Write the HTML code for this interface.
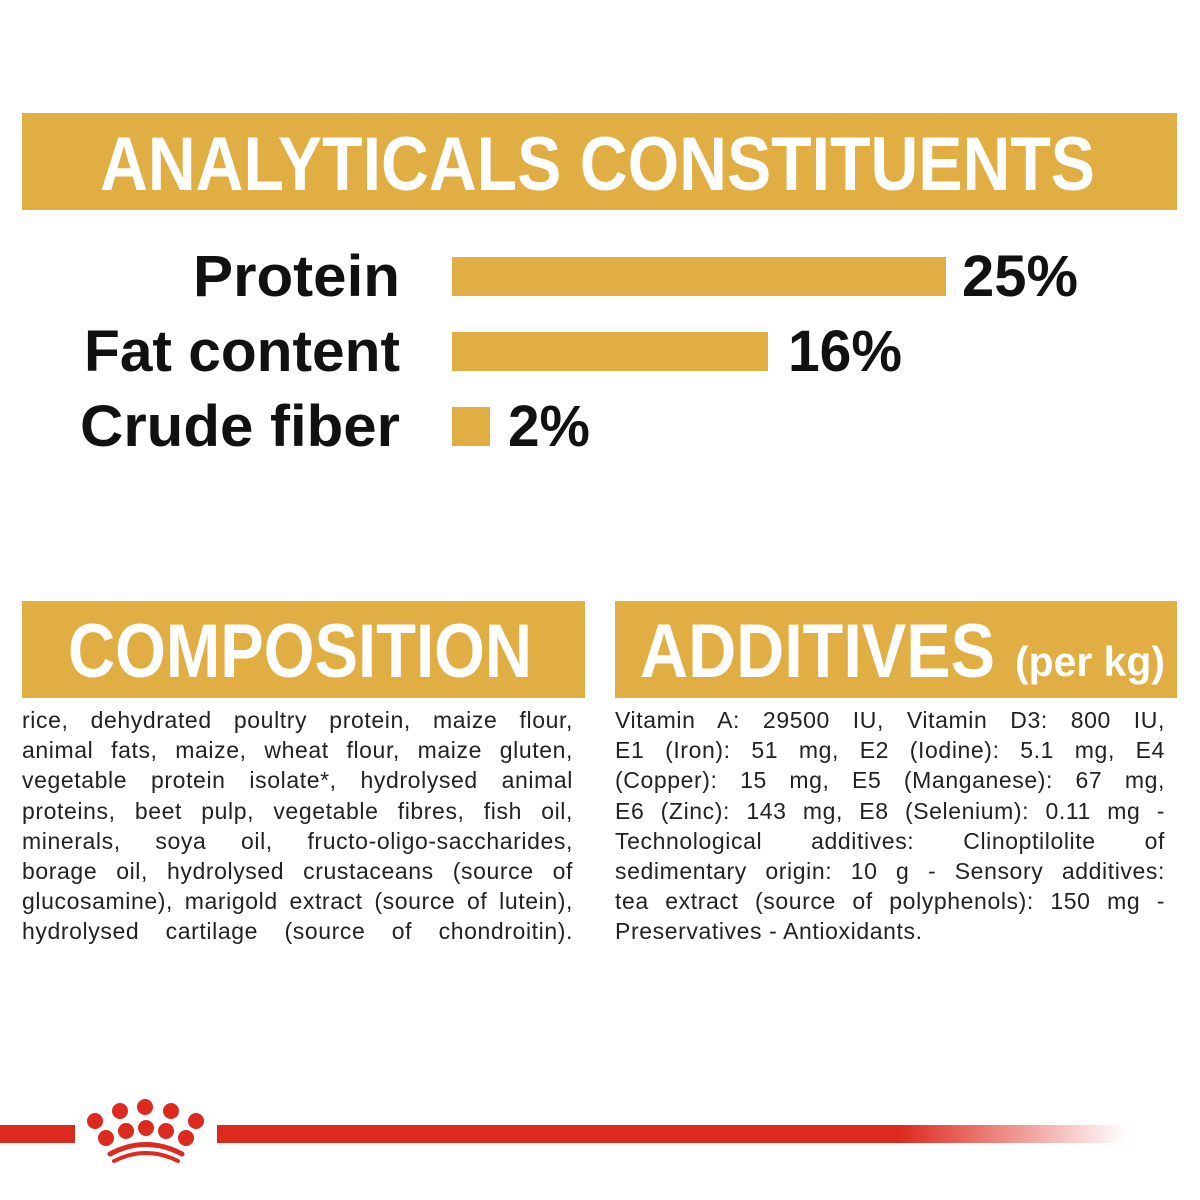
<!DOCTYPE html><html><head><style>
body{margin:0;width:1200px;height:1200px;background:#fff;position:relative;overflow:hidden;font-family:"Liberation Sans",sans-serif}
.b{position:absolute;background:#E0AE42}
.p{position:absolute;font-size:23px;line-height:30.2px;color:#222;letter-spacing:0.6px}
.p div{text-align:justify;text-align-last:justify;white-space:nowrap}
.p div.l{text-align-last:left}
svg{position:absolute;left:0;top:0}
</style></head><body>
<div class="b" style="left:22px;top:113px;width:1155px;height:97px"></div>
<div class="b" style="left:452px;top:257px;width:494px;height:39px"></div>
<div class="b" style="left:452px;top:332px;width:316px;height:39px"></div>
<div class="b" style="left:452px;top:407px;width:38px;height:39px"></div>
<div class="b" style="left:22px;top:601px;width:563px;height:97px"></div>
<div class="b" style="left:615px;top:601px;width:562px;height:97px"></div>
<svg width="1200" height="1200" viewBox="0 0 1200 1200" font-family="Liberation Sans, sans-serif" font-weight="bold">
<g fill="#fff" lengthAdjust="spacingAndGlyphs">
<text x="100" y="190" font-size="76" textLength="995" lengthAdjust="spacingAndGlyphs">ANALYTICALS CONSTITUENTS</text>
<text x="68" y="677" font-size="76" textLength="464" lengthAdjust="spacingAndGlyphs">COMPOSITION</text>
<text x="640" y="677" font-size="76" textLength="355" lengthAdjust="spacingAndGlyphs">ADDITIVES</text>
<text x="1015" y="676" font-size="42" textLength="150" lengthAdjust="spacingAndGlyphs">(per kg)</text>
</g>
<g fill="#111" font-size="58">
<text x="193" y="296" textLength="207" lengthAdjust="spacingAndGlyphs">Protein</text>
<text x="84" y="371" textLength="316" lengthAdjust="spacingAndGlyphs">Fat content</text>
<text x="80" y="446" textLength="320" lengthAdjust="spacingAndGlyphs">Crude fiber</text>
<text x="962" y="296" textLength="116" lengthAdjust="spacingAndGlyphs">25%</text>
<text x="788" y="371" textLength="114" lengthAdjust="spacingAndGlyphs">16%</text>
<text x="508" y="446" textLength="82" lengthAdjust="spacingAndGlyphs">2%</text>
</g>
</svg>
<div class="p" style="left:22px;top:705px;width:551px">
<div>rice, dehydrated poultry protein, maize flour,</div>
<div>animal fats, maize, wheat flour, maize gluten,</div>
<div>vegetable protein isolate*, hydrolysed animal</div>
<div>proteins, beet pulp, vegetable fibres, fish oil,</div>
<div>minerals, soya oil, fructo-oligo-saccharides,</div>
<div>borage oil, hydrolysed crustaceans (source of</div>
<div>glucosamine), marigold extract (source of lutein),</div>
<div>hydrolysed cartilage (source of chondroitin).</div>
</div>
<div class="p" style="left:615px;top:705px;width:550px">
<div>Vitamin A: 29500 IU, Vitamin D3: 800 IU,</div>
<div>E1 (Iron): 51 mg, E2 (Iodine): 5.1 mg, E4</div>
<div>(Copper): 15 mg, E5 (Manganese): 67 mg,</div>
<div>E6 (Zinc): 143 mg, E8 (Selenium): 0.11 mg -</div>
<div>Technological additives: Clinoptilolite of</div>
<div>sedimentary origin: 10 g - Sensory additives:</div>
<div>tea extract (source of polyphenols): 150 mg -</div>
<div class="l">Preservatives - Antioxidants.</div>
</div>
<div style="position:absolute;left:0;top:1125px;width:75px;height:18px;background:#DD2A1F"></div>
<div style="position:absolute;left:217px;top:1125px;width:910px;height:18px;background:linear-gradient(to right,#DD2A1F 0,#DD2A1F 75%,rgba(221,42,31,0) 100%)"></div>
<svg style="top:1080px" width="400" height="100" viewBox="0 0 400 100">
<g fill="#DD2A1F">
<circle cx="95" cy="41" r="8"/><circle cx="120" cy="31" r="8"/><circle cx="145" cy="27" r="8"/><circle cx="171" cy="31" r="8"/><circle cx="196" cy="41" r="8"/>
<circle cx="106" cy="58" r="8"/><circle cx="126" cy="51" r="8"/><circle cx="146" cy="48" r="8"/><circle cx="166" cy="51" r="8"/><circle cx="186" cy="58" r="8"/>
</g>
<path d="M110 74 Q146 55 182 74" stroke="#DD2A1F" stroke-width="5" fill="none" stroke-linecap="round"/>
<path d="M114 81 Q146 65 178 81" stroke="#DD2A1F" stroke-width="4" fill="none" stroke-linecap="round"/>
</svg>
</body></html>
